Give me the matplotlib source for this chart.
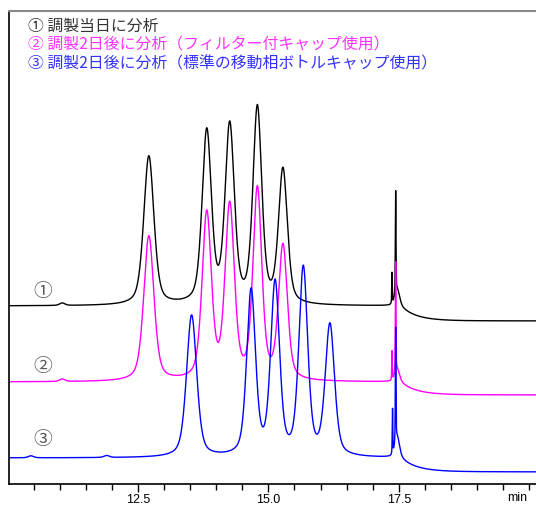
import numpy as np
import matplotlib
matplotlib.use("Agg")
import matplotlib.pyplot as plt
from matplotlib.ticker import MultipleLocator, FixedLocator

plt.rcParams['font.family'] = ['Noto Sans CJK JP', 'DejaVu Sans']

# peak tables: retention time [min], height, half width [min]
rt_1 = [11.05, 12.71, 13.82, 14.26, 14.79, 15.28, 17.37, 17.44, 17.47]
h_1 = [2.5, 149, 172, 177, 195, 134, 31, 103, 16]
w_1 = [0.06, 0.115, 0.105, 0.105, 0.10, 0.10, 0.006, 0.007, 0.05]

rt_2 = [11.05, 12.71, 13.82, 14.26, 14.79, 15.28, 17.37, 17.44, 17.47]
h_2 = [2.5, 145, 166, 173, 190, 134, 29, 111, 12]
w_2 = [0.06, 0.115, 0.105, 0.105, 0.10, 0.10, 0.006, 0.007, 0.05]

rt_3 = [10.45, 11.90, 13.53, 14.67, 15.13, 15.67, 16.18, 17.38, 17.44, 17.47]
h_3 = [2, 2, 142, 165, 172, 187, 131, 45, 115, 20]
w_3 = [0.06, 0.06, 0.115, 0.10, 0.10, 0.10, 0.105, 0.006, 0.007, 0.05]

# baseline level before and drop after the late peak
base = [178, 102, 26]
drop = [15, 13, 14]
step_time = 17.52

colors = ['black', '#ff00ff', '#0000ff']
labels = ['① 調製当日に分析',
          '② 調製2日後に分析（フィルター付キャップ使用）',
          '③ 調製2日後に分析（標準の移動相ボトルキャップ使用）']
label_colors = ['#333333', '#ff33ff', '#3333ff']
marks = ['①', '②', '③']


def peak(t, rt, h, w, eta=0.45):
    x = (t - rt) / w
    return h * (eta / (1 + x ** 2) + (1 - eta) * np.exp(-np.log(2) * x ** 2))


def trace(t, rts, hs, ws, b, d):
    y = np.full_like(t, float(b))
    for rt, h, w in zip(rts, hs, ws):
        y += peak(t, rt, h, w)
    after = t > step_time
    y[after] -= d * (1 - np.exp(-(t[after] - step_time) / 0.3))
    return y


t = np.linspace(10.0, 20.2, 8000)
tables = [(rt_1, h_1, w_1), (rt_2, h_2, w_2), (rt_3, h_3, w_3)]

fig = plt.figure(figsize=(5.36, 5.06), dpi=100)
ax = fig.add_axes([9 / 536, 21 / 506, 527 / 536, 473 / 506])

for (rts, hs, ws), b, d, c in zip(tables, base, drop, colors):
    ax.plot(t, trace(t, rts, hs, ws, b, d), color=c, lw=1.0)

ax.set_xlim(10.03, 20.13)
ax.set_ylim(0, 473)
ax.xaxis.set_major_locator(FixedLocator([12.5, 15.0, 17.5]))
ax.xaxis.set_major_formatter(plt.FuncFormatter(lambda v, p: f"{v:.1f}"))
ax.xaxis.set_minor_locator(MultipleLocator(0.5))
ax.tick_params(axis='x', which='major', length=6, width=1, pad=0.5, labelsize=9)
ax.tick_params(axis='x', which='minor', length=4, width=1)
for lab in ax.get_xticklabels():
    lab.set_family(['Liberation Sans', 'DejaVu Sans'])
ax.set_yticks([])
ax.spines['right'].set_visible(False)
ax.spines['top'].set_color('#888888')
ax.spines['top'].set_linewidth(1.5)
ax.spines['left'].set_linewidth(1.2)
ax.spines['bottom'].set_linewidth(1.2)

for i, (lab, c) in enumerate(zip(labels, label_colors)):
    fig.text(28 / 536, 1 - (26 + 19 * i) / 506, lab, color=c, fontsize=11.4,
             ha='left', va='center')

for m, yp in zip(marks, [292, 367, 440]):
    ax.text((43 - 9) / 527, (485 - yp) / 473, m, transform=ax.transAxes,
            color='#555555', fontsize=13.5, ha='center', va='center')

fig.text(507 / 536, 1 - 498 / 506, 'min', fontsize=9, ha='left', va='center',
         family=['Liberation Sans', 'DejaVu Sans'])

fig.savefig('out.png', dpi=100)
